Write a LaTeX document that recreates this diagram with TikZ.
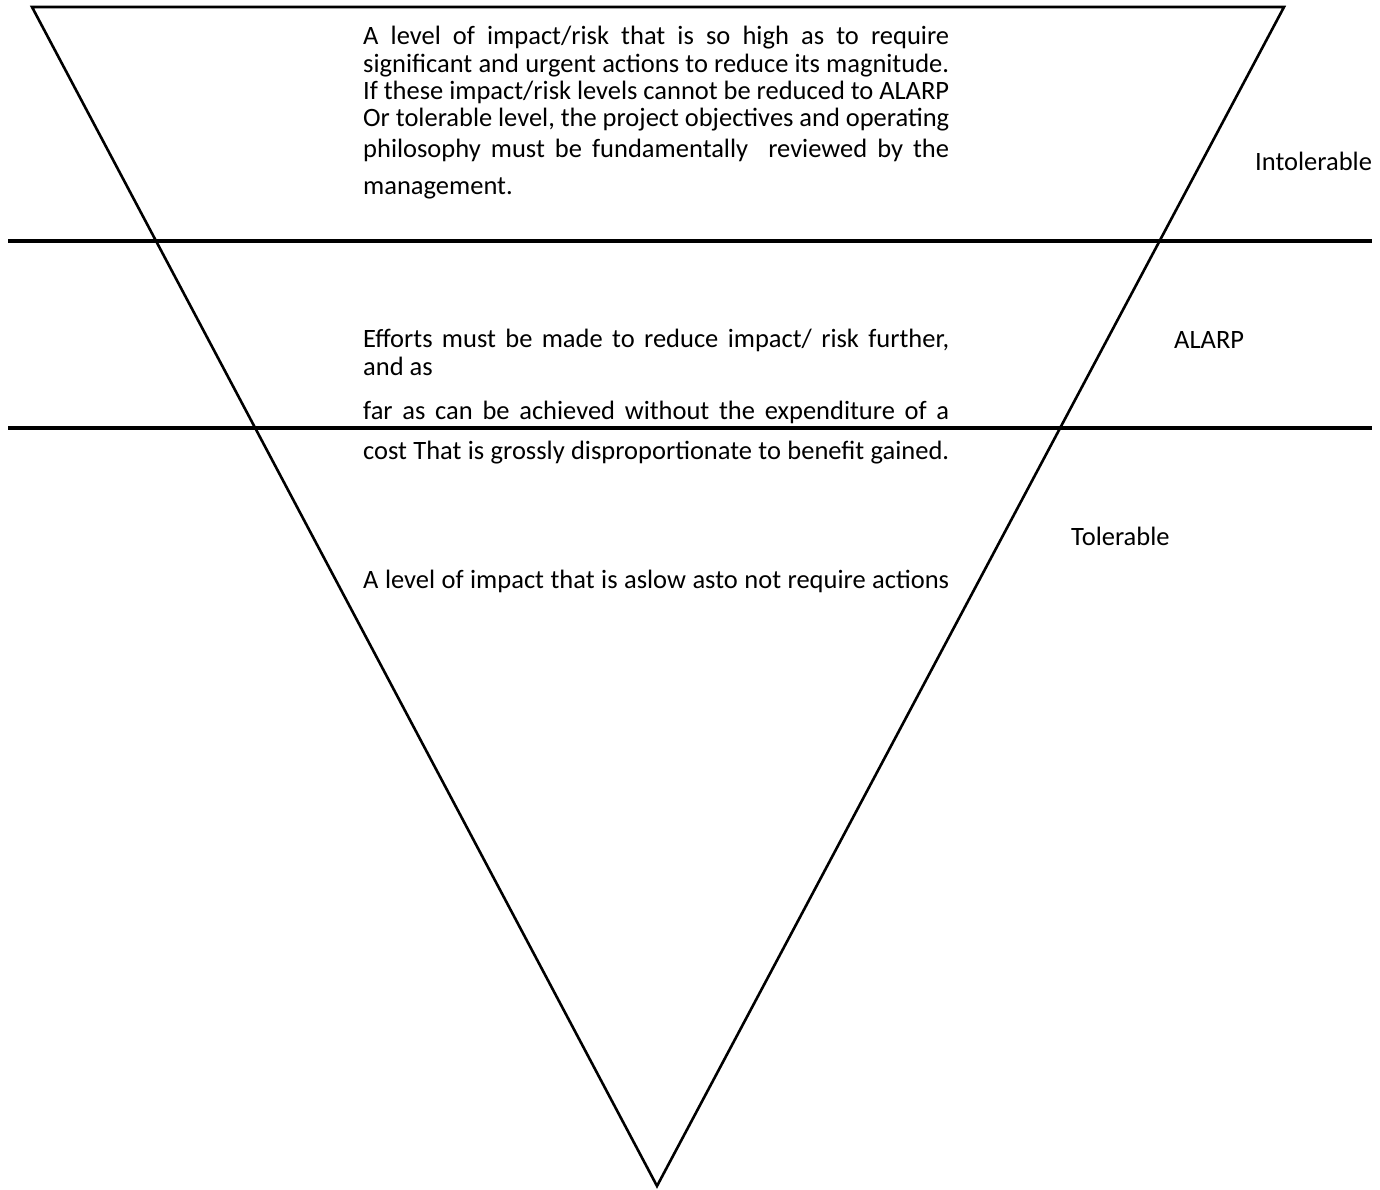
\documentclass[tikz,border=0pt]{standalone}
\usepackage{fontspec}
\setmainfont{Carlito}
\begin{document}
\begin{tikzpicture}[x=1pt,y=-1pt,
  tri/.style={line width=2.6pt},
  band/.style={line width=3.6pt},
  bodyline/.style={anchor=base west, inner sep=0pt, font=\fontsize{26.5}{32}\selectfont},
  zonelabel/.style={anchor=base west, inner sep=0pt, font=\fontsize{26.5}{32}\selectfont}]
  % canvas
  \fill[white] (0,0) rectangle (1380,1189);
  \useasboundingbox (0,0) rectangle (1380,1189);

  % inverted triangle
  \coordinate (tl) at (32,7);
  \coordinate (tr) at (1284,7);
  \coordinate (bt) at (657,1186);
  \draw[tri] (tl) -- (tr) -- (bt) -- cycle;

  % band boundaries
  \coordinate (a1) at (8,241);
  \coordinate (b1) at (1372,241);
  \coordinate (a2) at (8,428);
  \coordinate (b2) at (1372,428);
  \draw[band] (a1) -- (b1);
  \draw[band] (a2) -- (b2);

  % intolerable zone text
  \node[bodyline] (i1) at (363,44) {\makebox[586pt][s]{A level of impact/risk that is so high as to require}};
  \node[bodyline] (i2) at (363,72) {\makebox[586pt][s]{significant and urgent actions to reduce its magnitude.}};
  \node[bodyline] (i3) at (363,99) {\makebox[586pt][s]{If these impact/risk levels cannot be reduced to ALARP}};
  \node[bodyline] (i4) at (363,126) {\makebox[586pt][s]{Or tolerable level, the project objectives and operating}};
  \node[bodyline] (i5) at (363,157) {\makebox[586pt][s]{philosophy must be fundamentally\ \ reviewed by the}};
  \node[bodyline] (i6) at (363,194) {management.};

  % ALARP zone text
  \node[bodyline] (m1) at (363,347) {\makebox[586pt][s]{Efforts must be made to reduce impact/ risk further,}};
  \node[bodyline] (m2) at (363,375) {and as};
  \node[bodyline] (m3) at (363,419) {\makebox[586pt][s]{far as can be achieved without the expenditure of a}};
  \node[bodyline] (m4) at (363,459) {\makebox[586pt][s]{cost That is grossly disproportionate to benefit gained.}};

  % tolerable zone text
  \node[bodyline] (l1) at (363,588) {\makebox[586pt][s]{A level of impact that is aslow asto not require actions}};

  % zone labels
  \node[zonelabel] (zi) at (1255,170) {Intolerable};
  \node[zonelabel] (za) at (1174,348) {ALARP};
  \node[zonelabel] (zt) at (1071,545) {Tolerable};
\end{tikzpicture}
\end{document}
